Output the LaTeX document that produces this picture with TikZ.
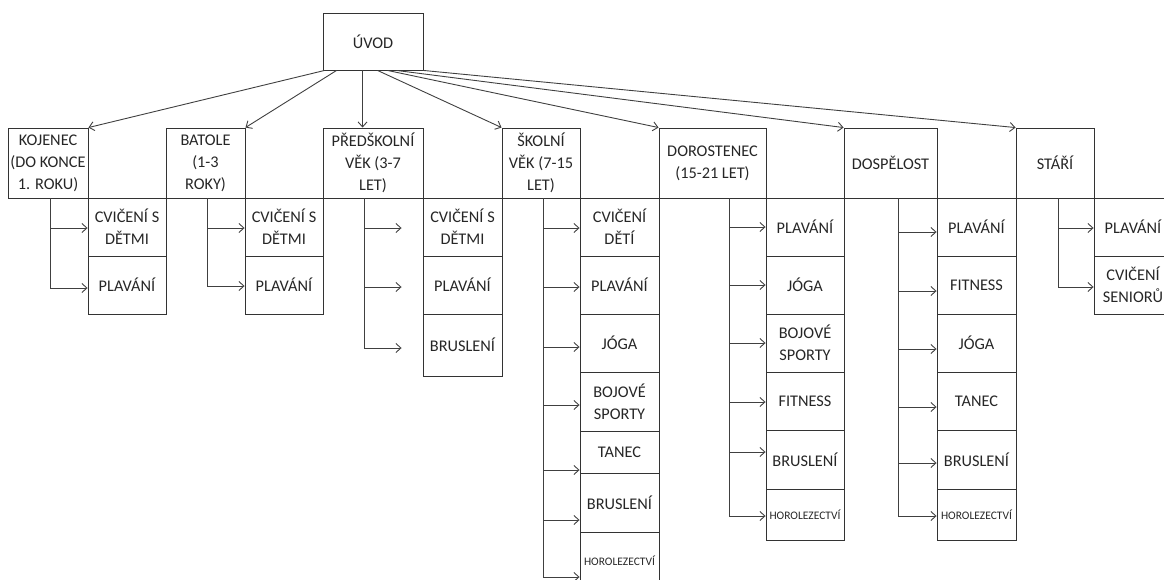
\documentclass[tikz,border=0pt]{standalone}
\usepackage{fontspec}
\setmainfont{Carlito}
\usepackage{tikz}
\usetikzlibrary{arrows.meta,positioning}
\newcommand\klein{\fontsize{11.5}{13}\selectfont}
\tikzset{
  box/.style={draw=black!80,line width=0.9pt,align=center,inner sep=0pt,text=black!85,
    font=\fontsize{16.3}{22}\selectfont},
  trunk/.style={draw=black!75,line width=0.9pt},
  link/.style={trunk,-{Straight Barb[length=5pt,width=9pt]}},
}
\begin{document}
\begin{tikzpicture}[x=1pt,y=-1pt]
\useasboundingbox (0,0) rectangle (1164,579);
\clip (0,0) rectangle (1164,579);
\node[box,minimum width=100,minimum height=57] (uvod) at (373,41.5) {ÚVOD};
% age groups
\node[box,minimum width=80,minimum height=70] (kojenec) at (48,163) {KOJENEC\\(DO KONCE\\1. ROKU)};
\node[box,minimum width=79,minimum height=70] (batole) at (205.5,163) {BATOLE\\(1-3\\ROKY)};
\node[box,minimum width=100,minimum height=70] (predskolni) at (373,163) {PŘEDŠKOLNÍ\\VĚK (3-7\\LET)};
\node[box,minimum width=78,minimum height=70] (skolni) at (541,163) {ŠKOLNÍ\\VĚK (7-15\\LET)};
\node[box,minimum width=107,minimum height=70] (dorostenec) at (712.5,163) {DOROSTENEC\\(15-21 LET)};
\node[box,minimum width=93,minimum height=70] (dospelost) at (890.5,163) {DOSPĚLOST};
\node[box,minimum width=78,minimum height=70] (stari) at (1055,163) {STÁŘÍ};
\draw[link] ([xshift=2]uvod.south west) -- (kojenec.north east);
\draw[link] ([xshift=14]uvod.south west) -- (batole.north east);
\draw[link] ([xshift=40]uvod.south west) -- ([xshift=40]predskolni.north west);
\draw[link] ([xshift=55]uvod.south west) -- (skolni.north west);
\draw[link] ([xshift=65]uvod.south west) -- (dorostenec.north west);
\draw[link] ([xshift=74]uvod.south west) -- (dospelost.north west);
\draw[link] (uvod.south east) -- (stari.north west);
% kojenec
\coordinate (kojenec-t) at (50,288);
\foreach \top/\bot/\ay/\txt [count=\i] in {198/256/228/{CVIČENÍ S\\DĚTMI},256/314/288/PLAVÁNÍ}{
  \node[box,minimum width=78,minimum height=\bot-\top] (kojenec-\i) at (127,{(\top+\bot)/2}) {\txt};
  \draw[link] (kojenec-t |- 0,\ay) -- (kojenec-\i.west |- 0,\ay);
}
\draw[trunk] (kojenec.south -| kojenec-t) -- (kojenec-t);
% batole
\coordinate (batole-t) at (207,286);
\foreach \top/\bot/\ay/\txt [count=\i] in {198/256/228/{CVIČENÍ S\\DĚTMI},256/314/286/PLAVÁNÍ}{
  \node[box,minimum width=78,minimum height=\bot-\top] (batole-\i) at (284,{(\top+\bot)/2}) {\txt};
  \draw[link] (batole-t |- 0,\ay) -- (batole-\i.west |- 0,\ay);
}
\draw[trunk] (batole.south -| batole-t) -- (batole-t);
% predskolni vek
\coordinate (predskolni-t) at (364,348);
\foreach \top/\bot/\ay/\txt [count=\i] in {198/256/228/{CVIČENÍ S\\DĚTMI},256/314/287/PLAVÁNÍ,314/376/348/BRUSLENÍ}{
  \node[box,minimum width=79,minimum height=\bot-\top] (predskolni-\i) at (462.5,{(\top+\bot)/2}) {\txt};
  \draw[link,shorten >=21pt] (predskolni-t |- 0,\ay) -- (predskolni-\i.west |- 0,\ay);
}
\draw[trunk] (predskolni.south -| predskolni-t) -- (predskolni-t);
% skolni vek
\coordinate (skolni-t) at (543,577);
\foreach \top/\bot/\ay/\txt [count=\i] in {198/256/228/{CVIČENÍ\\DĚTÍ},256/314/287/PLAVÁNÍ,314/372/347/JÓGA,
    372/431/405/{BOJOVÉ\\SPORTY},431/473/470/TANEC,473/532/520/BRUSLENÍ,532/590/577/{\klein HOROLEZECTVÍ}}{
  \node[box,minimum width=79,minimum height=\bot-\top] (skolni-\i) at (619.5,{(\top+\bot)/2}) {\txt};
  \draw[link] (skolni-t |- 0,\ay) -- (skolni-\i.west |- 0,\ay);
}
\draw[trunk] (skolni.south -| skolni-t) -- (skolni-t);
% dorostenec
\coordinate (dorostenec-t) at (729,516);
\foreach \top/\bot/\ay/\txt [count=\i] in {198/256/227/PLAVÁNÍ,256/314/285/JÓGA,314/372/343/{BOJOVÉ\\SPORTY},
    372/430/402/FITNESS,430/489/452/BRUSLENÍ,489/540/516/{\klein HOROLEZECTVÍ}}{
  \node[box,minimum width=78,minimum height=\bot-\top] (dorostenec-\i) at (805,{(\top+\bot)/2}) {\txt};
  \draw[link] (dorostenec-t |- 0,\ay) -- (dorostenec-\i.west |- 0,\ay);
}
\draw[trunk] (dorostenec.south -| dorostenec-t) -- (dorostenec-t);
% dospelost
\coordinate (dospelost-t) at (898,516);
\foreach \top/\bot/\ay/\txt [count=\i] in {198/256/232/PLAVÁNÍ,256/314/291/FITNESS,314/372/349/JÓGA,
    372/430/407/TANEC,430/489/463/BRUSLENÍ,489/540/516/{\klein HOROLEZECTVÍ}}{
  \node[box,minimum width=79,minimum height=\bot-\top] (dospelost-\i) at (976.5,{(\top+\bot)/2}) {\txt};
  \draw[link] (dospelost-t |- 0,\ay) -- (dospelost-\i.west |- 0,\ay);
}
\draw[trunk] (dospelost.south -| dospelost-t) -- (dospelost-t);
% stari
\coordinate (stari-t) at (1058,287);
\foreach \top/\bot/\ay/\txt [count=\i] in {198/256/228/PLAVÁNÍ,256/314/287/{CVIČENÍ\\SENIORŮ}}{
  \node[box,minimum width=78,minimum height=\bot-\top] (stari-\i) at (1133,{(\top+\bot)/2}) {\txt};
  \draw[link] (stari-t |- 0,\ay) -- (stari-\i.west |- 0,\ay);
}
\draw[trunk] (stari.south -| stari-t) -- (stari-t);
\end{tikzpicture}
\end{document}
